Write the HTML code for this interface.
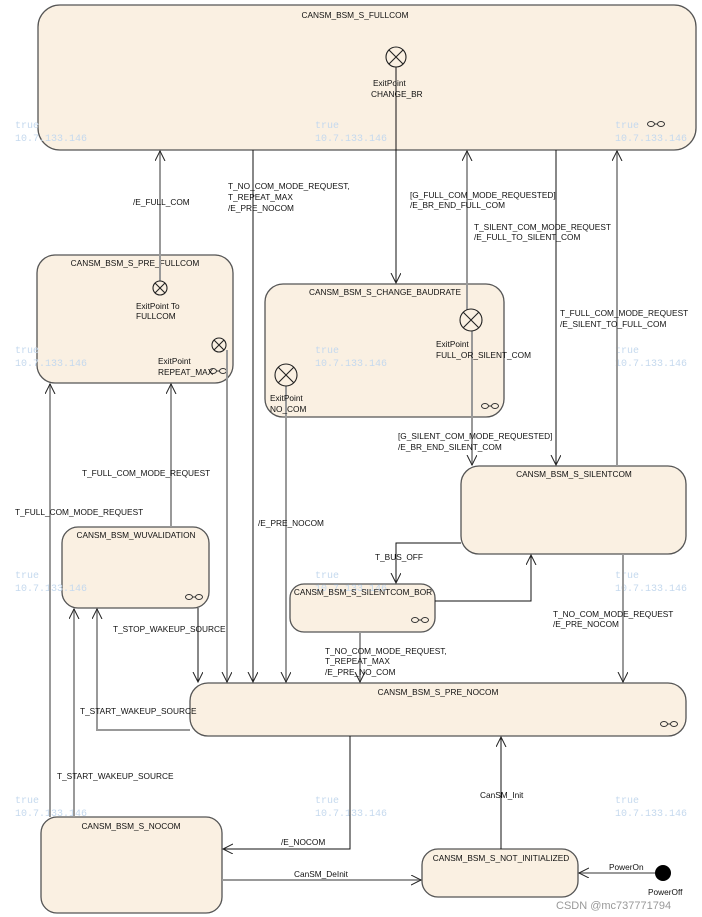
<!DOCTYPE html>
<html><head><meta charset="utf-8"><style>
body{margin:0;background:#fff;}
svg{display:block;font-family:"Liberation Sans","Noto Sans CJK SC",sans-serif;}
.b{fill:#faf0e2;stroke:#555;stroke-width:1.3}
text{font-size:8.3px;fill:#111}
.w{font-family:"Liberation Mono",monospace;fill:#c5d9ee;font-size:10px}
.k{stroke:#111;stroke-width:1;fill:none}
.g{stroke:#999;stroke-width:2;fill:none}
.x{fill:none;stroke:#222;stroke-width:1.1}
</style></head><body>
<svg width="702" height="917" viewBox="0 0 702 917">
<defs>
<marker id="a" markerWidth="12" markerHeight="12" refX="10" refY="5" orient="auto" markerUnits="userSpaceOnUse"><path d="M0,0 L10,5 L0,10" fill="none" stroke="#222" stroke-width="1"/></marker>
</defs>
<!-- boxes -->
<rect class="b" x="38" y="5" width="658" height="145" rx="22"/>
<rect class="b" x="37" y="255" width="196" height="128" rx="18"/>
<rect class="b" x="265" y="284" width="239" height="133" rx="18"/>
<rect class="b" x="461" y="466" width="225" height="88" rx="18"/>
<rect class="b" x="62" y="527" width="147" height="81" rx="16"/>
<rect class="b" x="290" y="584" width="145" height="48" rx="14"/>
<rect class="b" x="190" y="683" width="496" height="53" rx="18"/>
<rect class="b" x="41" y="817" width="181" height="96" rx="16"/>
<rect class="b" x="422" y="849" width="156" height="48" rx="16"/>
<circle cx="663" cy="873" r="8" fill="#000"/>
<!-- watermarks -->
<g class="w">
<text x="15" y="128" class="w">true</text><text x="15" y="141" class="w">10.7.133.146</text>
<text x="315" y="128" class="w">true</text><text x="315" y="141" class="w">10.7.133.146</text>
<text x="615" y="128" class="w">true</text><text x="615" y="141" class="w">10.7.133.146</text>
<text x="15" y="353" class="w">true</text><text x="15" y="366" class="w">10.7.133.146</text>
<text x="315" y="353" class="w">true</text><text x="315" y="366" class="w">10.7.133.146</text>
<text x="615" y="353" class="w">true</text><text x="615" y="366" class="w">10.7.133.146</text>
<text x="15" y="578" class="w">true</text><text x="15" y="591" class="w">10.7.133.146</text>
<text x="315" y="578" class="w">true</text><text x="315" y="591" class="w">10.7.133.146</text>
<text x="615" y="578" class="w">true</text><text x="615" y="591" class="w">10.7.133.146</text>
<text x="15" y="803" class="w">true</text><text x="15" y="816" class="w">10.7.133.146</text>
<text x="315" y="803" class="w">true</text><text x="315" y="816" class="w">10.7.133.146</text>
<text x="615" y="803" class="w">true</text><text x="615" y="816" class="w">10.7.133.146</text>
</g>
<!-- titles -->
<text x="355" y="18" text-anchor="middle">CANSM_BSM_S_FULLCOM</text>
<text x="135" y="266" text-anchor="middle">CANSM_BSM_S_PRE_FULLCOM</text>
<text x="385" y="295" text-anchor="middle">CANSM_BSM_S_CHANGE_BAUDRATE</text>
<text x="574" y="477" text-anchor="middle">CANSM_BSM_S_SILENTCOM</text>
<text x="136" y="538" text-anchor="middle">CANSM_BSM_WUVALIDATION</text>
<text x="363" y="595" text-anchor="middle">CANSM_BSM_S_SILENTCOM_BOR</text>
<text x="438" y="695" text-anchor="middle">CANSM_BSM_S_PRE_NOCOM</text>
<text x="131" y="829" text-anchor="middle">CANSM_BSM_S_NOCOM</text>
<text x="501" y="861" text-anchor="middle">CANSM_BSM_S_NOT_INITIALIZED</text>
<!-- composite icons -->
<g stroke="#333" fill="none" stroke-width="1">
<ellipse cx="651" cy="124" rx="3.5" ry="2.5"/><ellipse cx="661" cy="124" rx="3.5" ry="2.5"/><line x1="654" y1="124" x2="658" y2="124"/>
<ellipse cx="213" cy="371" rx="3.5" ry="2.5"/><ellipse cx="223" cy="371" rx="3.5" ry="2.5"/><line x1="216" y1="371" x2="220" y2="371"/>
<ellipse cx="485" cy="406" rx="3.5" ry="2.5"/><ellipse cx="495" cy="406" rx="3.5" ry="2.5"/><line x1="488" y1="406" x2="492" y2="406"/>
<ellipse cx="189" cy="597" rx="3.5" ry="2.5"/><ellipse cx="199" cy="597" rx="3.5" ry="2.5"/><line x1="192" y1="597" x2="196" y2="597"/>
<ellipse cx="415" cy="620" rx="3.5" ry="2.5"/><ellipse cx="425" cy="620" rx="3.5" ry="2.5"/><line x1="418" y1="620" x2="422" y2="620"/>
<ellipse cx="664" cy="724" rx="3.5" ry="2.5"/><ellipse cx="674" cy="724" rx="3.5" ry="2.5"/><line x1="667" y1="724" x2="671" y2="724"/>
</g>
<!-- connectors -->
<line class="g" x1="160" y1="281" x2="160" y2="151" marker-end="url(#a)"/>
<line class="k" x1="253" y1="150" x2="253" y2="682" marker-end="url(#a)"/>
<line class="k" x1="396" y1="67" x2="396" y2="283" marker-end="url(#a)"/>
<line class="g" x1="467" y1="312" x2="467" y2="151" marker-end="url(#a)"/>
<line class="g" x1="472" y1="330" x2="472" y2="465" marker-end="url(#a)"/>
<line class="k" x1="556" y1="150" x2="556" y2="465" marker-end="url(#a)"/>
<line class="g" x1="617" y1="466" x2="617" y2="151" marker-end="url(#a)"/>
<line class="g" x1="286" y1="386" x2="286" y2="682" marker-end="url(#a)"/>
<line class="g" x1="227" y1="350" x2="227" y2="682" marker-end="url(#a)"/>
<line class="g" x1="171" y1="527" x2="171" y2="384" marker-end="url(#a)"/>
<line class="g" x1="50" y1="817" x2="50" y2="384" marker-end="url(#a)"/>
<line class="k" x1="198" y1="608" x2="198" y2="682" marker-end="url(#a)"/>
<polyline class="g" points="190,730 97,730 97,609" marker-end="url(#a)"/>
<line class="g" x1="74" y1="817" x2="74" y2="609" marker-end="url(#a)"/>
<polyline class="k" points="461,543 396,543 396,583" marker-end="url(#a)"/>
<polyline class="k" points="435,601 531,601 531,555" marker-end="url(#a)"/>
<line class="g" x1="360" y1="632" x2="360" y2="682" marker-end="url(#a)"/>
<line class="g" x1="623" y1="554" x2="623" y2="682" marker-end="url(#a)"/>
<polyline class="k" points="350,736 350,849 223,849" marker-end="url(#a)"/>
<line class="k" x1="501" y1="849" x2="501" y2="737" marker-end="url(#a)"/>
<line class="g" x1="222" y1="880" x2="421" y2="880" marker-end="url(#a)"/>
<line class="g" x1="655" y1="873" x2="579" y2="873" marker-end="url(#a)"/>
<!-- exit points -->
<g class="x">
<circle cx="396" cy="57" r="10" fill="#faf0e2"/><path d="M389,50 L403,64 M403,50 L389,64"/>
<circle cx="160" cy="288" r="7" fill="#faf0e2"/><path d="M155,283 L165,293 M165,283 L155,293"/>
<circle cx="219" cy="345" r="7" fill="#faf0e2"/><path d="M214,340 L224,350 M224,340 L214,350"/>
<circle cx="471" cy="320" r="11" fill="#faf0e2"/><path d="M463,312 L479,328 M479,312 L463,328"/>
<circle cx="286" cy="375" r="11" fill="#faf0e2"/><path d="M278,367 L294,383 M294,367 L278,383"/>
</g>
<!-- labels -->
<text x="373" y="86">ExitPoint</text><text x="371" y="97">CHANGE_BR</text>
<text x="136" y="309">ExitPoint To</text><text x="136" y="319">FULLCOM</text>
<text x="158" y="364">ExitPoint</text><text x="158" y="375">REPEAT_MAX</text>
<text x="436" y="347">ExitPoint</text><text x="436" y="358">FULL_OR_SILENT_COM</text>
<text x="270" y="401">ExitPoint</text><text x="270" y="412">NO_COM</text>
<text x="133" y="205">/E_FULL_COM</text>
<text x="228" y="189">T_NO_COM_MODE_REQUEST,</text><text x="228" y="200">T_REPEAT_MAX</text><text x="228" y="211">/E_PRE_NOCOM</text>
<text x="410" y="198">[G_FULL_COM_MODE_REQUESTED]</text><text x="410" y="208">/E_BR_END_FULL_COM</text>
<text x="474" y="230">T_SILENT_COM_MODE_REQUEST</text><text x="474" y="240">/E_FULL_TO_SILENT_COM</text>
<text x="560" y="316">T_FULL_COM_MODE_REQUEST</text><text x="560" y="327">/E_SILENT_TO_FULL_COM</text>
<text x="398" y="439">[G_SILENT_COM_MODE_REQUESTED]</text><text x="398" y="450">/E_BR_END_SILENT_COM</text>
<text x="82" y="476">T_FULL_COM_MODE_REQUEST</text>
<text x="15" y="515">T_FULL_COM_MODE_REQUEST</text>
<text x="258" y="526">/E_PRE_NOCOM</text>
<text x="375" y="560">T_BUS_OFF</text>
<text x="553" y="617">T_NO_COM_MODE_REQUEST</text><text x="553" y="627">/E_PRE_NOCOM</text>
<text x="113" y="632">T_STOP_WAKEUP_SOURCE</text>
<text x="325" y="654">T_NO_COM_MODE_REQUEST,</text><text x="325" y="664">T_REPEAT_MAX</text><text x="325" y="675">/E_PRE_NO_COM</text>
<text x="80" y="714">T_START_WAKEUP_SOURCE</text>
<text x="57" y="779">T_START_WAKEUP_SOURCE</text>
<text x="480" y="798">CanSM_Init</text>
<text x="281" y="845">/E_NOCOM</text>
<text x="294" y="877">CanSM_DeInit</text>
<text x="609" y="870">PowerOn</text>
<text x="648" y="895">PowerOff</text>
<text x="556" y="909" style="font-size:11px;fill:#999">CSDN @mc737771794</text>
</svg>
</body></html>
